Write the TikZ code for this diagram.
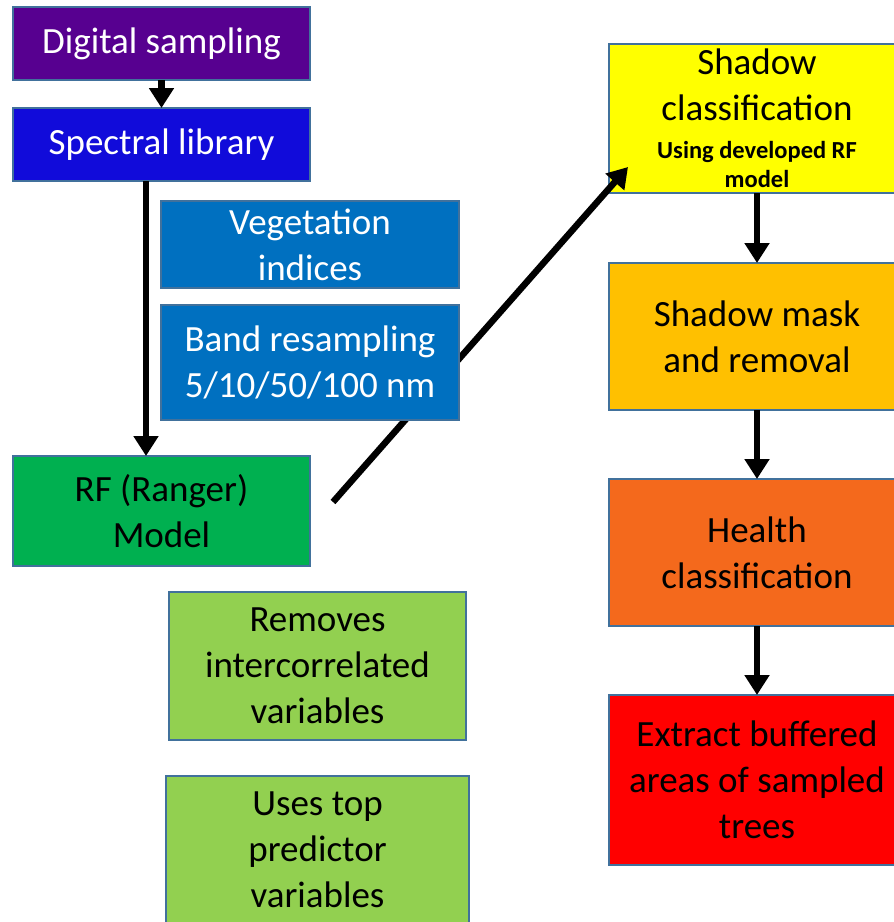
\documentclass[tikz,border=0pt]{standalone}
\usepackage{fontspec}
\setmainfont{Carlito}
\usetikzlibrary{arrows.meta,positioning}

\definecolor{sampviolet}{HTML}{570090}
\definecolor{specblue}{HTML}{110BDA}
\definecolor{indexblue}{HTML}{0070C0}
\definecolor{rfgreen}{HTML}{00B050}
\definecolor{varsgreen}{HTML}{92D050}
\definecolor{shadowyellow}{HTML}{FFFF00}
\definecolor{maskamber}{HTML}{FFC000}
\definecolor{healthorange}{HTML}{F4691C}
\definecolor{boxedge}{HTML}{41719C}

\newcommand{\subnote}[1]{{\fontsize{24.5}{28}\selectfont\bfseries #1}}

\begin{document}
\begin{tikzpicture}[x=1pt,y=1pt,->,>={Triangle[length=20pt,width=24pt]},line width=6.5pt,
                    stepbox/.style={rectangle, draw=boxedge, line width=1.2pt, inner sep=0pt, outer sep=0pt,
                                    align=center, font=\fontsize{37}{46}\selectfont, text=black},
                    leftbox/.style={stepbox, minimum width=297pt},
                    rightbox/.style={stepbox, minimum width=296pt, minimum height=147pt}]
      \useasboundingbox (0,0) rectangle (894,-922);

      % left column: data preparation
      \node[leftbox, fill=sampviolet, text=white, minimum height=73pt]   (digital)  at (161.5,-43.5)          {Digital sampling};
      \node[leftbox, fill=specblue, text=white, minimum height=73pt]     (spectral) [below=28pt of digital]   {Spectral library};
      \node[leftbox, minimum width=298pt, fill=indexblue, text=white, minimum height=87pt]
                                                                         (veg)      at (310,-244.5)           {Vegetation\\indices};
      \node[leftbox, fill=rfgreen, minimum height=110pt]                 (rf)       at (161.5,-511)           {RF (Ranger)\\Model};
      \node[leftbox, fill=varsgreen, minimum height=148pt]               (removes)  at (317.5,-666)           {Removes\\intercorrelated\\variables};
      \node[leftbox, minimum width=303pt, fill=varsgreen, minimum height=148pt]
                                                                         (uses)     [below=36pt of removes]   {Uses top\\predictor\\variables};

      % right column: classification chain
      \node[rightbox, fill=shadowyellow, minimum height=149pt]           (shadow)   at (757,-118.5)
            {Shadow\\classification\\[-8pt]\subnote{Using developed RF}\\[-17pt]\subnote{model}};
      \node[rightbox, fill=maskamber]                                    (mask)     [below=70pt of shadow]    {Shadow mask\\and removal};
      \node[rightbox, fill=healthorange]                                 (health)   [below=69pt of mask]      {Health\\classification};
      \node[rightbox, fill=red, minimum height=170pt]                    (extract)  [below=69pt of health]    {Extract buffered\\areas of sampled\\trees};

      \coordinate (rfout)    at ([shift={(23pt,9pt)}]rf.east);
      \coordinate (shadowin) at ([shift={(19pt,-48.5pt)}]shadow.west);

      \path (digital) edge (spectral)
            ([xshift=-15.5pt]spectral.south) edge ([xshift=-15.5pt]rf.north)
            (rfout) edge (shadowin)
            (shadow) edge (mask)
            (mask) edge (health)
            (health) edge (extract);

      % set last so the long arrow runs behind it
      \node[leftbox, minimum width=298pt, fill=indexblue, text=white, minimum height=115pt]
                                                                         (band)     [below=17pt of veg]       {Band resampling\\5/10/50/100 nm};
\end{tikzpicture}
\end{document}
